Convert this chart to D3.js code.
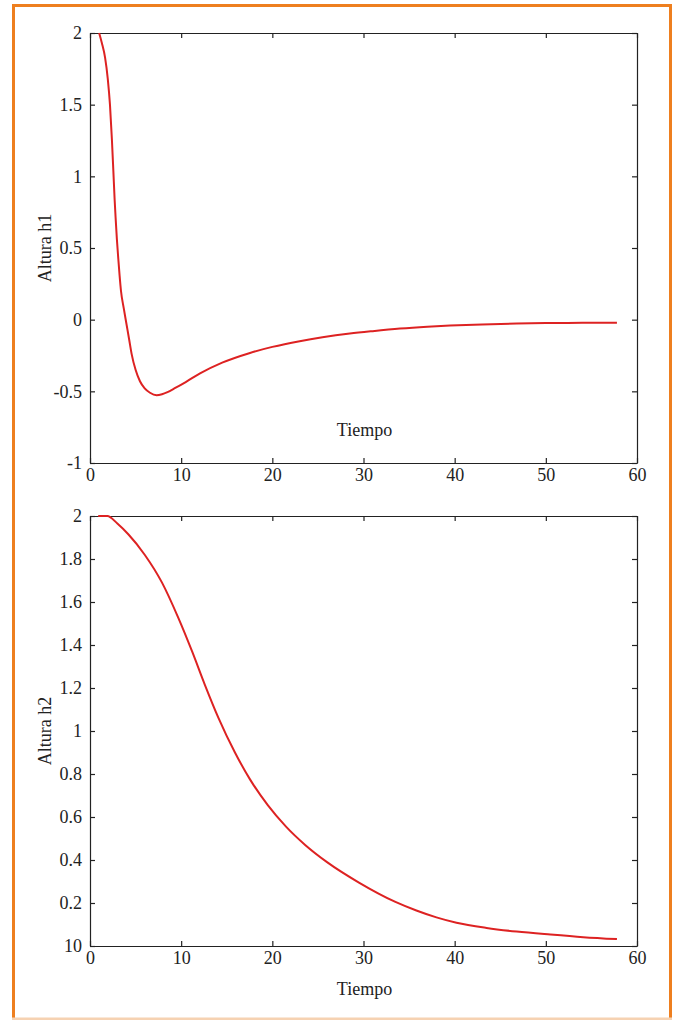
<!DOCTYPE html>
<html>
<head>
<meta charset="utf-8">
<script src="https://cdn.jsdelivr.net/npm/d3@7"></script>
<style>
  body { margin: 0; background: #fff; }
  svg { display: block; }
  text { font-family: "Liberation Serif", "Times New Roman", serif; fill: #222; }
</style>
</head>
<body>
<div id="chart"></div>
<script>
// x axis (both panels)
var xTicks = [0, 10, 20, 30, 40, 50, 60];

// panel 1: Altura h1
var h1Time = [1.0, 1.3, 1.65, 1.95, 2.19, 2.4, 2.56, 2.7, 2.81, 2.95, 3.11, 3.25, 3.4, 3.7, 4.0, 4.3, 4.57, 5.0, 5.48, 6.0, 6.58, 7.3, 7.9, 8.5, 9.3, 10.5, 12.07, 14.5, 17.55, 20, 23, 25.5, 28.5, 31, 34, 37, 39.5, 43, 46.8, 50, 54, 57.8];
var h1Value = [2.0, 1.93, 1.83, 1.68, 1.50, 1.26, 1.04, 0.84, 0.71, 0.56, 0.42, 0.305, 0.2, 0.08, -0.03, -0.14, -0.24, -0.35, -0.43, -0.48, -0.51, -0.527, -0.52, -0.505, -0.478, -0.435, -0.375, -0.3, -0.232, -0.19, -0.15, -0.123, -0.097, -0.08, -0.062, -0.049, -0.041, -0.033, -0.027, -0.024, -0.022, -0.021];
var h1Ticks = [-1, -0.5, 0, 0.5, 1, 1.5, 2];
var h1TickLabels = ["-1", "-0.5", "0", "0.5", "1", "1.5", "2"];

// panel 2: Altura h2
var h2Time = [0.9, 1.9, 3.0, 4.2, 6.0, 7.9, 9.7, 11.2, 12.6, 14.1, 15.9, 17.55, 19.5, 21.5, 23.6, 26, 29.5, 33.5, 35.8, 38, 40.2, 43.5, 46.8, 50.5, 54.1, 57.8];
var h2Value = [2.0, 2.0, 1.965, 1.915, 1.82, 1.69, 1.525, 1.37, 1.215, 1.06, 0.9, 0.775, 0.655, 0.555, 0.47, 0.39, 0.295, 0.205, 0.165, 0.133, 0.108, 0.084, 0.067, 0.053, 0.041, 0.032];
var h2Ticks = [0, 0.2, 0.4, 0.6, 0.8, 1, 1.2, 1.4, 1.6, 1.8, 2];
var h2TickLabels = ["10", "0.2", "0.4", "0.6", "0.8", "1", "1.2", "1.4", "1.6", "1.8", "2"];

var W = 678, H = 1020;
var left = 90, right = 637;

var svg = d3.select("#chart").append("svg")
    .attr("width", W)
    .attr("height", H);

// orange frame
svg.append("rect")
    .attr("x", 13.5).attr("y", 5.5)
    .attr("width", 657).attr("height", 1030)
    .attr("fill", "none")
    .attr("stroke", "#ee7f1f")
    .attr("stroke-width", 3);
svg.append("line")
    .attr("x1", 12).attr("x2", 672)
    .attr("y1", 1019).attr("y2", 1019)
    .attr("stroke", "#f6d2b2")
    .attr("stroke-width", 3);

var x = d3.scaleLinear().domain([0, 60]).range([left, right]);

function drawPanel(id, top, bottom, domain, ticks, labels, time, value, yLabel, xLabelY) {
    var y = d3.scaleLinear().domain(domain).range([bottom, top]);
    var g = svg.append("g");

    g.append("clipPath").attr("id", id)
        .append("rect")
        .attr("x", left).attr("y", top - 1)
        .attr("width", right - left).attr("height", bottom - top + 1);

    // x axis bottom
    g.append("g")
        .attr("transform", "translate(0," + bottom + ")")
        .call(d3.axisBottom(x).tickValues(xTicks).tickSizeInner(-5).tickSizeOuter(0).tickPadding(5));
    // x axis top
    g.append("g")
        .attr("transform", "translate(0," + top + ")")
        .call(d3.axisTop(x).tickValues(xTicks).tickSizeInner(-5).tickSizeOuter(0).tickFormat(""));
    // y axis left
    g.append("g")
        .attr("transform", "translate(" + left + ",0)")
        .call(d3.axisLeft(y).tickValues(ticks).tickSizeInner(-5).tickSizeOuter(0).tickPadding(8)
            .tickFormat(function(d, i) { return labels[i]; }));
    // y axis right
    g.append("g")
        .attr("transform", "translate(" + right + ",0)")
        .call(d3.axisRight(y).tickValues(ticks).tickSizeInner(-5).tickSizeOuter(0).tickFormat(""));

    g.selectAll(".domain").attr("stroke", "#222").attr("stroke-width", 1.2);
    g.selectAll(".tick line").attr("stroke", "#222").attr("stroke-width", 1.2);
    g.selectAll(".tick text")
        .style("font-family", "'Liberation Serif', 'Times New Roman', serif")
        .style("font-size", "18px")
        .attr("fill", "#222");

    // curve
    var pts = time.map(function(t, i) { return [t, value[i]]; });
    g.append("path")
        .datum(pts)
        .attr("clip-path", "url(#" + id + ")")
        .attr("fill", "none")
        .attr("stroke", "#dd2222")
        .attr("stroke-width", 2)
        .attr("d", d3.line()
            .x(function(d) { return x(d[0]); })
            .y(function(d) { return y(d[1]); })
            .curve(d3.curveMonotoneX));

    // labels
    g.append("text")
        .attr("transform", "translate(51," + ((top + bottom) / 2) + ") rotate(-90)")
        .attr("text-anchor", "middle")
        .style("font-size", "18px")
        .text(yLabel);
    g.append("text")
        .attr("x", (left + right) / 2 + 1)
        .attr("y", xLabelY)
        .attr("text-anchor", "middle")
        .style("font-size", "18px")
        .text("Tiempo");
}

drawPanel("clip1", 33, 463, [-1, 2], h1Ticks, h1TickLabels, h1Time, h1Value, "Altura h1", 436);
drawPanel("clip2", 516, 946, [0, 2], h2Ticks, h2TickLabels, h2Time, h2Value, "Altura h2", 995);
</script>
</body>
</html>
